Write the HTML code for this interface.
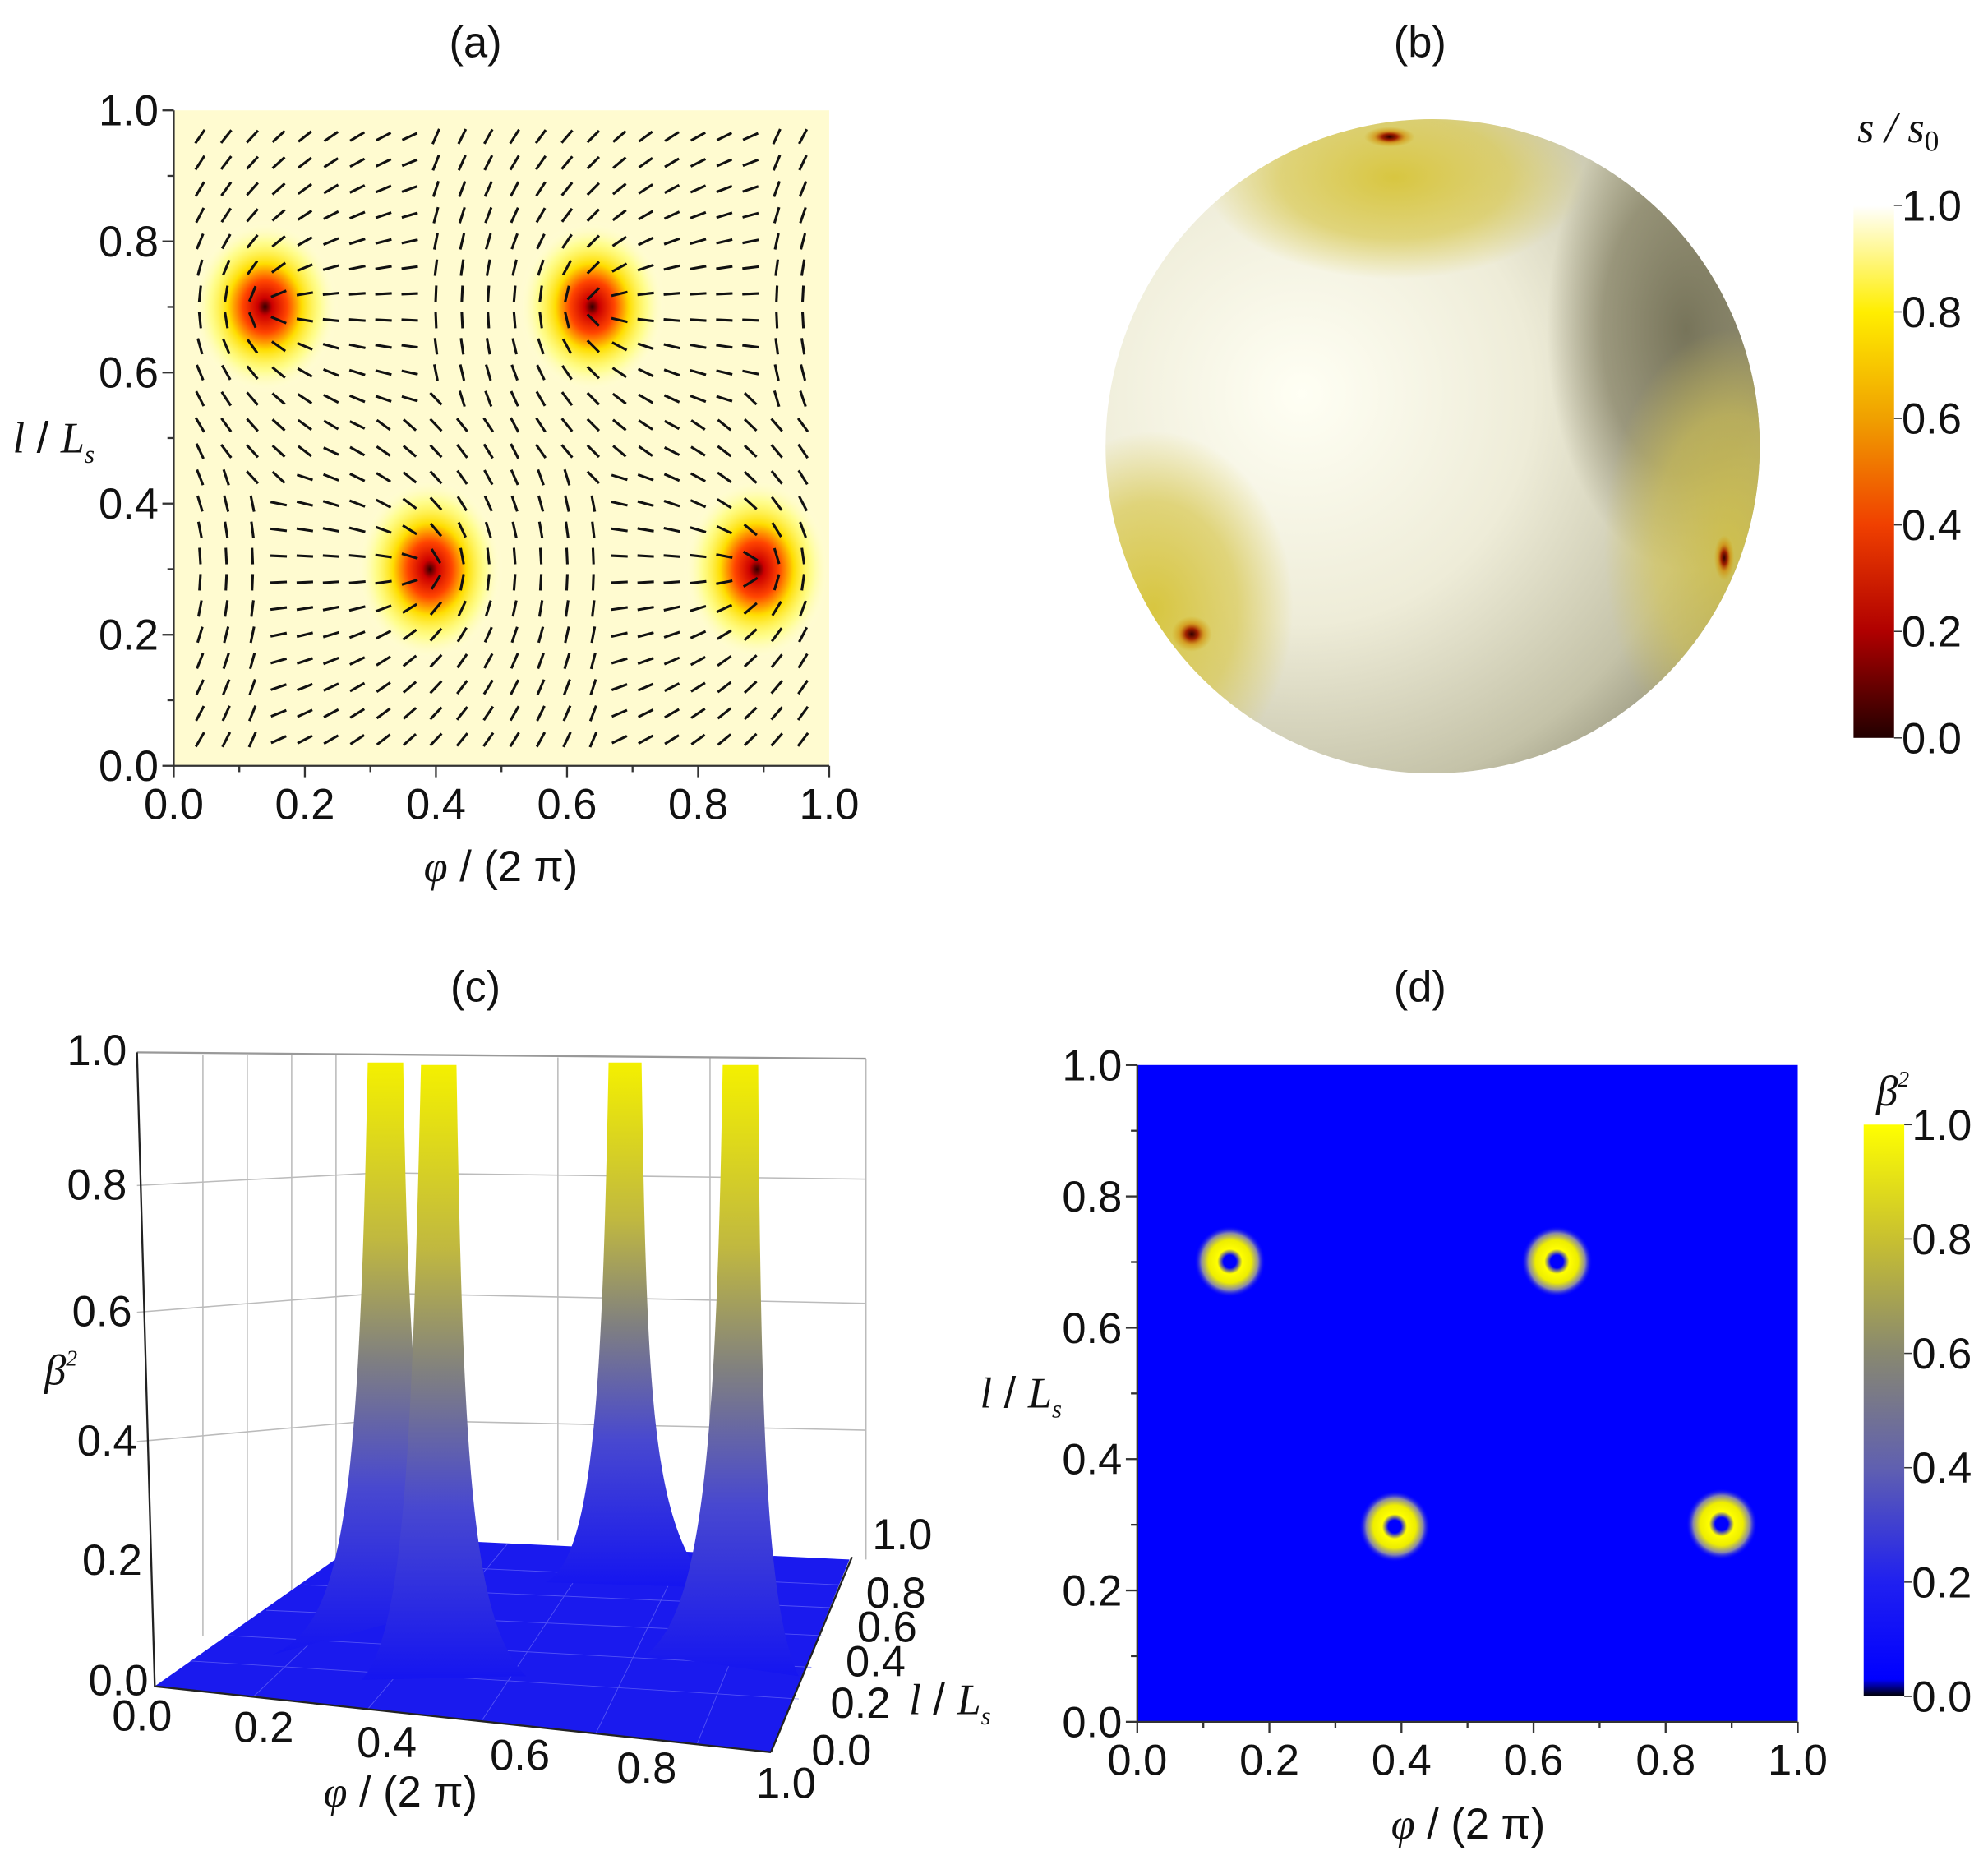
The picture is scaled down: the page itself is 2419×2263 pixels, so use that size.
<!DOCTYPE html>
<html><head><meta charset="utf-8"><style>
html,body{margin:0;padding:0;background:#fff;}
svg{display:block;}
text{font-family:"Liberation Sans",sans-serif;font-size:34px;fill:#111;}
.ser{font-family:"Liberation Serif",serif;font-style:italic;}
</style></head><body>
<svg id="s" width="2419" height="2263" viewBox="0 0 1568 1467" xmlns="http://www.w3.org/2000/svg">
<defs>
<radialGradient id="hot"><stop offset="0" stop-color="#300"/><stop offset="0.1" stop-color="#c00"/><stop offset="0.3" stop-color="#f40"/><stop offset="0.5" stop-color="#fd0"/><stop offset="0.75" stop-color="#ff6" stop-opacity="0.6"/><stop offset="1" stop-color="#ffe" stop-opacity="0"/></radialGradient>
<radialGradient id="ring"><stop offset="0" stop-color="#00f"/><stop offset="0.18" stop-color="#00f"/><stop offset="0.35" stop-color="#ff0"/><stop offset="0.6" stop-color="#ee0"/><stop offset="0.8" stop-color="#88a"/><stop offset="1" stop-color="#00f" stop-opacity="0"/></radialGradient>
<linearGradient id="cb1" x1="0" y1="0" x2="0" y2="1"><stop offset="0" stop-color="#fff"/><stop offset="0.2" stop-color="#ffee00"/><stop offset="0.4" stop-color="#f0a000"/><stop offset="0.6" stop-color="#f04000"/><stop offset="0.8" stop-color="#b00000"/><stop offset="1" stop-color="#200"/></linearGradient>
<linearGradient id="cb2" x1="0" y1="0" x2="0" y2="1"><stop offset="0" stop-color="#ffff00"/><stop offset="0.2" stop-color="#c8c030"/><stop offset="0.4" stop-color="#888870"/><stop offset="0.6" stop-color="#6060b0"/><stop offset="0.8" stop-color="#2020f0"/><stop offset="0.97" stop-color="#0000ff"/><stop offset="1" stop-color="#000"/></linearGradient>
<linearGradient id="pk" x1="0" y1="0" x2="0" y2="1"><stop offset="0" stop-color="#f4f000"/><stop offset="0.3" stop-color="#c0b840"/><stop offset="0.5" stop-color="#808080"/><stop offset="0.72" stop-color="#4848d0"/><stop offset="1" stop-color="#1515f0"/></linearGradient>
<radialGradient id="sph" cx="0.3" cy="0.42" r="0.78"><stop offset="0" stop-color="#fffff4"/><stop offset="0.45" stop-color="#eeecd8"/><stop offset="0.8" stop-color="#c4c2a8"/><stop offset="1" stop-color="#8a8870"/></radialGradient>
<radialGradient id="yb"><stop offset="0" stop-color="#d8c640"/><stop offset="0.6" stop-color="#d8c850" stop-opacity="0.7"/><stop offset="1" stop-color="#d8c850" stop-opacity="0"/></radialGradient>
<radialGradient id="gb"><stop offset="0" stop-color="#77745a"/><stop offset="0.6" stop-color="#807c60" stop-opacity="0.7"/><stop offset="1" stop-color="#807c60" stop-opacity="0"/></radialGradient>
<radialGradient id="ds"><stop offset="0" stop-color="#300"/><stop offset="0.3" stop-color="#a02000"/><stop offset="0.6" stop-color="#d08000" stop-opacity="0.6"/><stop offset="1" stop-color="#d0a000" stop-opacity="0"/></radialGradient>
<clipPath id="ca"><rect x="137" y="87" width="517" height="517"/></clipPath>
<clipPath id="cs"><circle cx="1130" cy="352" r="258"/></clipPath>
<clipPath id="cd"><rect x="897" y="840" width="521" height="518"/></clipPath>
</defs>
<text x="375" y="45" text-anchor="middle">(a)</text>
<text x="1120" y="45" text-anchor="middle">(b)</text>
<text x="375" y="790" text-anchor="middle">(c)</text>
<text x="1120" y="790" text-anchor="middle">(d)</text>
<!-- panel a -->
<rect x="137" y="87" width="517" height="517" fill="#fffbd0"/>
<g clip-path="url(#ca)">
<ellipse cx="209" cy="242" rx="58" ry="68" fill="url(#hot)"/>
<ellipse cx="467" cy="242" rx="58" ry="68" fill="url(#hot)"/>
<ellipse cx="339" cy="449" rx="58" ry="72" fill="url(#hot)"/>
<ellipse cx="597" cy="449" rx="58" ry="72" fill="url(#hot)"/>
<g id="fld" stroke="#111" stroke-width="2"></g>
</g>
<g stroke="#333" stroke-width="1.5" fill="none"><path d="M137,87V604H654"/></g>
<g id="ta"></g>
<text x="395" y="695" text-anchor="middle"><tspan class="ser">φ</tspan> / (2 π)</text>
<text x="10" y="357"><tspan class="ser">l</tspan> / <tspan class="ser">L</tspan><tspan class="ser" font-size="20" dy="8">s</tspan></text>
<!-- panel b -->
<circle cx="1130" cy="352" r="258" fill="url(#sph)"/>
<g clip-path="url(#cs)">
<ellipse cx="1330" cy="260" rx="110" ry="190" fill="url(#gb)"/>
<ellipse cx="1100" cy="140" rx="150" ry="80" fill="url(#yb)"/>
<ellipse cx="910" cy="480" rx="110" ry="140" fill="url(#yb)"/>
<ellipse cx="1365" cy="430" rx="100" ry="170" fill="url(#yb)" opacity="0.8"/>
<ellipse cx="1096" cy="108" rx="20" ry="8" fill="url(#ds)"/>
<ellipse cx="940" cy="500" rx="16" ry="14" fill="url(#ds)"/>
<ellipse cx="1360" cy="440" rx="8" ry="18" fill="url(#ds)"/>
</g>
<rect x="1462" y="162" width="32" height="420" fill="url(#cb1)"/>
<text x="1465" y="112" class="ser" font-size="34">s / s<tspan font-size="23" dy="7" font-style="normal">0</tspan></text>
<g id="tb"></g>
<!-- panel c -->
<g stroke="#bbb" stroke-width="1" fill="none">
<path d="M160,832V1290M195,832V1280M230,832V1270M265,832V1262"/>
<path d="M440,834V1215M560,834V1220M683,835V1230"/>
<path d="M108,935L300,925L683,930M108,1035L300,1020L683,1028M108,1137L300,1120L683,1128"/>
</g>
<path d="M108,830L683,835" stroke="#999" stroke-width="1.5"/>
<polygon points="122,1330 290,1212 670,1230 608,1382" fill="#1a1aee"/>
<g stroke="#6a6af8" stroke-width="0.6" opacity="0.7">
<path d="M150,1310L630,1340M180,1290L640,1315M210,1270L648,1290M240,1250L655,1268M265,1232L662,1250"/>
<path d="M200,1338L330,1215M290,1348L400,1218M380,1357L470,1221M470,1367L540,1224M550,1375L610,1227"/>
</g>
<g fill="url(#pk)">
<path d="M215,1305C270,1280 283,1200 290,838L318,838C322,1100 332,1230 375,1262Z"/>
<path d="M285,1325C318,1290 325,1150 332,840L360,840C365,1150 372,1280 415,1322Z"/>
<path d="M430,1248C468,1230 475,1100 480,838L506,838C510,1100 514,1200 560,1252Z"/>
<path d="M510,1305C553,1270 565,1150 570,840L598,840C600,1150 606,1270 630,1322Z"/>
</g>
<path d="M108,830L122,1330L608,1382" stroke="#222" stroke-width="1.5" fill="none"/>
<path d="M608,1382L672,1228" stroke="#222" stroke-width="1.5"/>
<text x="100" y="840" text-anchor="end">1.0</text>
<text x="100" y="946" text-anchor="end">0.8</text>
<text x="104" y="1046" text-anchor="end">0.6</text>
<text x="108" y="1148" text-anchor="end">0.4</text>
<text x="112" y="1242" text-anchor="end">0.2</text>
<text x="117" y="1337" text-anchor="end">0.0</text>
<text x="112" y="1365" text-anchor="middle">0.0</text>
<text x="208" y="1374" text-anchor="middle">0.2</text>
<text x="305" y="1386" text-anchor="middle">0.4</text>
<text x="410" y="1396" text-anchor="middle">0.6</text>
<text x="510" y="1406" text-anchor="middle">0.8</text>
<text x="620" y="1418" text-anchor="middle">1.0</text>
<text x="688" y="1222">1.0</text>
<text x="683" y="1268">0.8</text>
<text x="676" y="1295">0.6</text>
<text x="667" y="1322">0.4</text>
<text x="655" y="1355">0.2</text>
<text x="640" y="1392">0.0</text>
<text x="717" y="1352"><tspan class="ser">l</tspan> / <tspan class="ser">L</tspan><tspan class="ser" font-size="20" dy="8">s</tspan></text>
<text x="255" y="1425"><tspan class="ser">φ</tspan> / (2 π)</text>
<text x="35" y="1092" class="ser">β<tspan font-size="18" dy="-15">2</tspan></text>
<!-- panel d -->
<rect x="897" y="840" width="521" height="518" fill="#0000ff"/>
<g clip-path="url(#cd)">
<circle cx="970" cy="995" r="28" fill="url(#ring)"/>
<circle cx="1228" cy="995" r="28" fill="url(#ring)"/>
<circle cx="1100" cy="1204" r="28" fill="url(#ring)"/>
<circle cx="1358" cy="1202" r="28" fill="url(#ring)"/>
</g>
<path d="M897,840V1358H1418" stroke="#333" stroke-width="1.5" fill="none"/>
<g id="td"></g>
<text x="1158" y="1450" text-anchor="middle"><tspan class="ser">φ</tspan> / (2 π)</text>
<text x="773" y="1110"><tspan class="ser">l</tspan> / <tspan class="ser">L</tspan><tspan class="ser" font-size="20" dy="8">s</tspan></text>
<rect x="1470" y="887" width="32" height="451" fill="url(#cb2)"/>
<text x="1480" y="872" class="ser">β<tspan font-size="18" dy="-15">2</tspan></text>
</svg>
<script>
var NS="http://www.w3.org/2000/svg";
function el(p,t,a,txt){var e=document.createElementNS(NS,t);for(var k in a)e.setAttribute(k,a[k]);if(txt!==undefined)e.textContent=txt;document.getElementById(p).appendChild(e);return e;}
var defs=[[0.14,0.7,0],[0.64,0.7,0],[0.39,0.3,Math.PI/2],[0.89,0.3,Math.PI/2]];
for(var i=0;i<24;i++)for(var j=0;j<24;j++){
 var x=0.04+i*0.04,y=0.04+j*0.04,best=1e9,th=0;
 for(var d=0;d<4;d++){for(var sh=-1;sh<=1;sh++){var dx=x-(defs[d][0]+sh),dy=y-defs[d][1];var r=dx*dx+dy*dy;if(r<best){best=r;th=defs[d][2]+0.5*Math.atan2(dy,dx);}}}
 var px=137+x*517,py=604-y*517,L=6.5,c=Math.cos(th)*L,s=Math.sin(th)*L;
 el("fld","line",{x1:px-c,y1:py+s,x2:px+c,y2:py-s});
}
function axes(g,x0,y0,w,h){
 for(var k=0;k<=10;k++){var len=k%2?5:9;
  var xx=x0+w*k/10,yy=y0-h*k/10;
  el(g,"line",{x1:xx,y1:y0,x2:xx,y2:y0+len,stroke:"#333","stroke-width":1.5});
  el(g,"line",{x1:x0,y1:yy,x2:x0-len,y2:yy,stroke:"#333","stroke-width":1.5});
  if(k%2==0){var v=(k/10).toFixed(1);
   el(g,"text",{x:xx,y:y0+42,"text-anchor":"middle"},v);
   el(g,"text",{x:x0-12,y:yy+12,"text-anchor":"end"},v);}
 }
}
axes("ta",137,604,517,517);
axes("td",897,1358,521,518);
for(var k=0;k<=5;k++){
 var yb=582-k*84;el("tb","line",{x1:1494,y1:yb,x2:1500,y2:yb,stroke:"#333"});
 el("tb","text",{x:1500,y:yb+12},(k*0.2).toFixed(1));
 var yd=1338-k*90.2;el("td","line",{x1:1502,y1:yd,x2:1508,y2:yd,stroke:"#333"});
 el("td","text",{x:1508,y:yd+12},(k*0.2).toFixed(1));
}
</script>
</body></html>
